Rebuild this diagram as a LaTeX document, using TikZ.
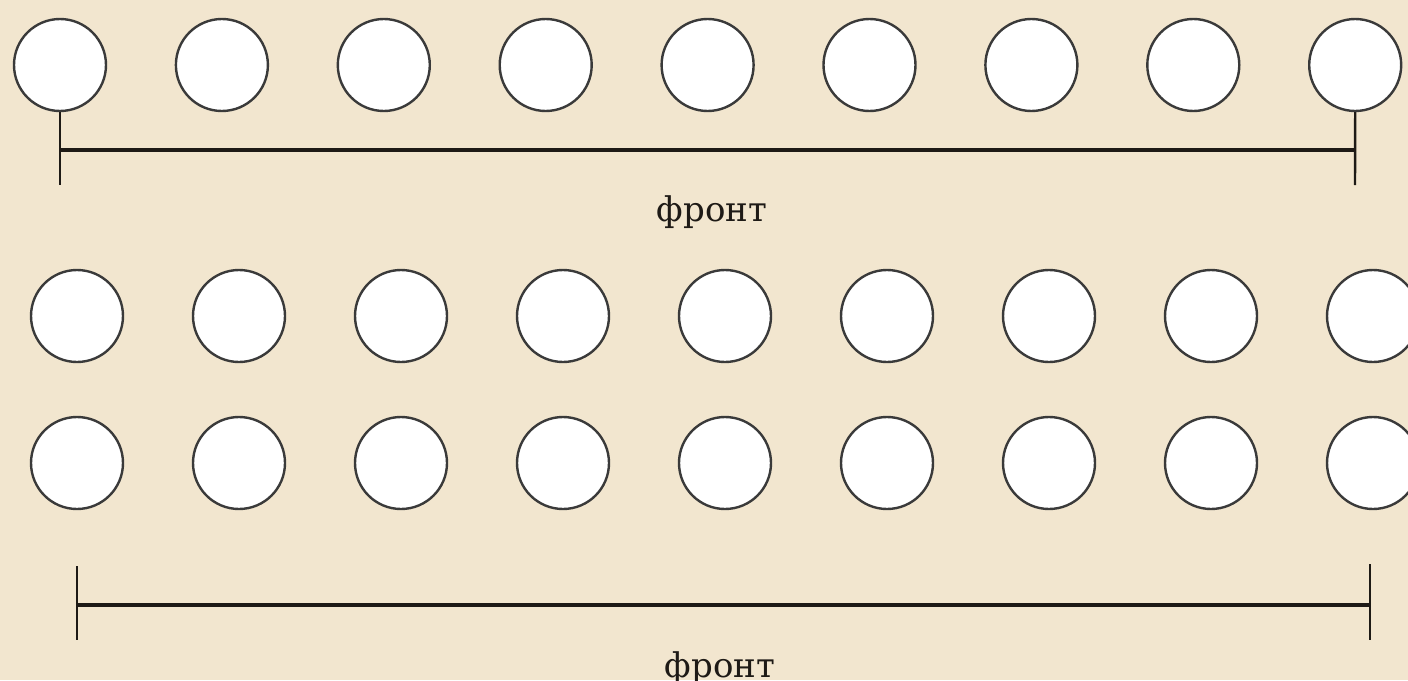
\documentclass[tikz,border=0pt]{standalone}
\usepackage{fontspec}
\setmainfont{DejaVu Serif}
\definecolor{bg}{HTML}{F2E6CF}
\definecolor{ring}{HTML}{3A3A3A}
\definecolor{barc}{HTML}{1E1A16}
\begin{document}
\begin{tikzpicture}[x=1pt,y=-1pt,
  soldier/.style={circle,draw=ring,line width=2.4pt,fill=white,minimum size=92pt,inner sep=0pt},
  frontbar/.style={draw=barc,line width=3.6pt},
  tick/.style={draw=barc,line width=2.4pt},
  lbl/.style={font=\fontsize{34}{40}\selectfont,text=barc,inner sep=0pt}]
\fill[bg] (0,0) rectangle (1408,680);
\useasboundingbox (0,0) rectangle (1408,680);
\clip (0,0) rectangle (1408,680);
% top row
\foreach \i in {0,...,8} {
  \node[soldier] (t\i) at ({60+\i*161.9},65) {};
}
% middle rows
\foreach \i in {0,...,8} {
  \node[soldier] (m\i) at ({77+\i*162},316) {};
  \node[soldier] (b\i) at ({77+\i*162},463) {};
}
% top front bracket
\coordinate (tl) at (60,185);
\coordinate (tr) at (1355,185);
\coordinate (tlm) at (60,150);
\coordinate (trm) at (1355,150);
\draw[tick] (t0.south) -- (tl);
\draw[tick] (t8.south) -- (tr);
\draw[frontbar] (tlm) -- (trm);
\node[lbl] (f1) at (712,212) {фронт};
% bottom front bracket
\coordinate (bl1) at (77,566);
\coordinate (bl2) at (77,640);
\coordinate (br1) at (1370,564);
\coordinate (br2) at (1370,640);
\coordinate (blm) at (77,605);
\coordinate (brm) at (1370,605);
\draw[tick] (bl1) -- (bl2);
\draw[tick] (br1) -- (br2);
\draw[frontbar] (blm) -- (brm);
\node[lbl] (f2) at (720,668) {фронт};
\end{tikzpicture}
\end{document}
